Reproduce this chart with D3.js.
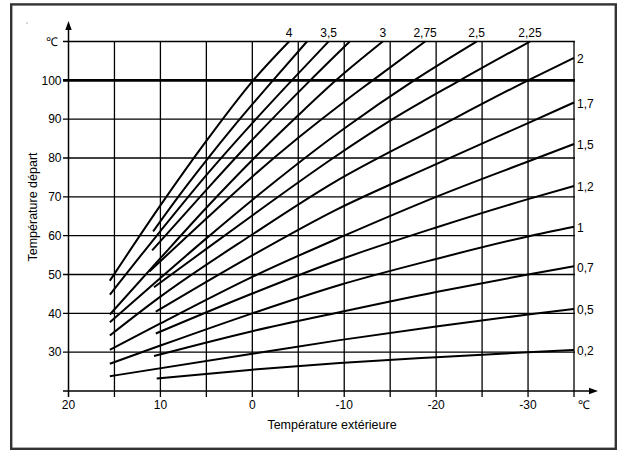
<!DOCTYPE html>
<html><head><meta charset="utf-8">
<script src="https://cdn.jsdelivr.net/npm/d3@7"></script>
<style>
body{margin:0;background:#fff}
svg{display:block}
text{font-family:"Liberation Sans",Arial,Helvetica,sans-serif;fill:#000}
</style>
</head><body>
<svg id="chart" width="621" height="452"></svg>
<script>
// ---- data ----
const xGrid = [20,15,10,5,0,-5,-10,-15,-20,-25,-30,-35];
const xTickLabels = [20,10,0,-10,-20,-30];
const yGrid = [30,40,50,60,70,80,90,100,110];
const yTickLabels = [30,40,50,60,70,80,90,100];
const unitLabel = "\u2103";
const xTitle = "Température extérieure";
const yTitle = "Température départ";

const curveNames = ["4","3,75","3,5","3,25","3","2,75","2,5","2,25","2","1,7","1,5","1,2","1","0,7","0,5","0,2"];
const topLabels = ["4","3,5","3","2,75","2,5","2,25"];
const rightLabels = ["2","1,7","1,5","1,2","1","0,7","0,5","0,2"];

const c4    = [[15.5,48.4],[10,67.8],[5,84.4],[-0.1,100],[-4.0,110]];
const c375  = [[10.8,61.1],[8,70.2],[5,79.4],[2,88.2],[-2.25,100],[-5.95,110]];
const c35   = [[15.5,44.8],[10,61.2],[5,75.6],[0,89.0],[-4.3,100],[-8.3,110]];
const c325  = [[10.9,56.2],[5,71.8],[0,84.7],[-6.3,100],[-10.6,110]];
const c3    = [[15.5,39.7],[10,54.2],[5,67.2],[0,79.5],[-5,91.0],[-9.1,100],[-14.2,110]];
const c275  = [[11.2,50.8],[5,64.4],[0,75.2],[-5,85.2],[-10,94.5],[-13.1,100],[-18.8,110]];
const c25   = [[15.5,37.7],[10,49.1],[5,59.3],[0,69.2],[-10,87.6],[-17.6,100],[-24.4,110]];
const c225  = [[10.7,46.7],[5,56.6],[0,65.2],[-8.8,80],[-15,89.6],[-22.6,100],[-30.2,110]];
const c2    = [[15.5,34.3],[10,44.3],[0,60.3],[-8.8,73.6],[-20,87.7],[-30,100],[-35,105.8]];
const c17   = [[10.5,40.4],[0,54.9],[-9,66.5],[-20,78.4],[-30,89],[-35,94.3]];
const c15   = [[15.5,30.6],[10,37.4],[0,49.4],[-10,60],[-20,70],[-30,79.1],[-35,83.6]];
const c12   = [[10.5,34.8],[0,45.1],[-9.5,53.8],[-20,62.1],[-30,69.4],[-35,72.8]];
const c1    = [[15.5,27.0],[10,31.7],[0,40.0],[-9.5,47.3],[-20,54.0],[-30,59.8],[-35,62.3]];
const c07   = [[10.7,29.0],[0,35.4],[-9.5,40.3],[-20,45.5],[-30,50],[-35,52.1]];
const c05   = [[15.5,23.8],[0,29.6],[-9.5,33.1],[-20,36.6],[-30,39.7],[-35,41.1]];
const c02   = [[10.4,23.2],[0,25.5],[-9.5,27.2],[-20,28.7],[-30,30.0],[-35,30.6]];
const curves = [c4,c375,c35,c325,c3,c275,c25,c225,c2,c17,c15,c12,c1,c07,c05,c02];

// ---- drawing ----
const svg = d3.select("#chart");
const x = d3.scaleLinear().domain([20,-35]).range([68.5,574]);
const y = d3.scaleLinear().domain([20,110]).range([391,41.5]);
const FS = "12px";
const FT = "12.5px";

// frame
svg.append("rect").attr("x",11.2).attr("y",4.4).attr("width",604.6).attr("height",444.4)
  .attr("fill","none").attr("stroke","#333").attr("stroke-width",2.4);

// tiny mark
svg.append("rect").attr("x",26.5).attr("y",22.5).attr("width",1).attr("height",1).attr("fill","#666");

// vertical grid + ticks
svg.append("g").selectAll("line").data(xGrid.filter(d=>d!==20)).join("line")
  .attr("x1",d=>x(d)).attr("x2",d=>x(d)).attr("y1",y(110)).attr("y2",397)
  .attr("stroke","#000").attr("stroke-width",1.3);

// horizontal grid + ticks
svg.append("g").selectAll("line").data(yGrid).join("line")
  .attr("x1",63).attr("x2",575).attr("y1",d=>y(d)).attr("y2",d=>y(d))
  .attr("stroke","#000").attr("stroke-width",d=>d===100?2.8:1.3);

// axes with arrows
svg.append("line").attr("x1",x(20)).attr("x2",x(20)).attr("y1",397).attr("y2",28)
  .attr("stroke","#000").attr("stroke-width",1.5);
svg.append("path").attr("d",`M${x(20)},21 L${x(20)-3.2},30 L${x(20)+3.2},30 Z`).attr("fill","#000");
svg.append("line").attr("x1",63).attr("x2",591).attr("y1",y(20)).attr("y2",y(20))
  .attr("stroke","#000").attr("stroke-width",1.5);
svg.append("path").attr("d",`M598,${y(20)} L589,${y(20)-3.2} L589,${y(20)+3.2} Z`).attr("fill","#000");

// tick labels
svg.append("g").selectAll("text").data(yTickLabels).join("text")
  .attr("x",61.5).attr("y",d=>y(d)).attr("dy","0.36em").attr("text-anchor","end")
  .style("font-size",FS).text(d=>d);
svg.append("text").attr("x",58).attr("y",y(110)).attr("dy","0.36em").attr("text-anchor","end")
  .style("font-size",FS).text(unitLabel);
svg.append("g").selectAll("text").data(xTickLabels).join("text")
  .attr("x",d=>x(d)).attr("y",409).attr("text-anchor","middle")
  .style("font-size",FS).text(d=>String(d));
svg.append("text").attr("x",577.5).attr("y",409).style("font-size",FS).text(unitLabel);

// axis titles
svg.append("text").attr("x",332).attr("y",429).attr("text-anchor","middle")
  .style("font-size",FT).text(xTitle);
svg.append("text").attr("transform","translate(37,207) rotate(-90)").attr("text-anchor","middle")
  .style("font-size",FT).text(yTitle);

// curves
const line = d3.line().x(d=>x(d[0])).y(d=>y(d[1])).curve(d3.curveMonotoneX);
svg.append("g").selectAll("path").data(curves).join("path")
  .attr("d",line).attr("fill","none").attr("stroke","#000").attr("stroke-width",2);

// curve labels
curves.forEach((c,i)=>{
  const name = curveNames[i];
  const end = c[c.length-1];
  if (topLabels.includes(name)) {
    svg.append("text").attr("x",x(end[0])).attr("y",37).attr("text-anchor","middle")
      .style("font-size",FS).text(name);
  } else if (rightLabels.includes(name)) {
    svg.append("text").attr("x",577).attr("y",y(end[1])+1).attr("dy","0.36em")
      .style("font-size",FS).text(name);
  }
});
</script>
</body></html>
